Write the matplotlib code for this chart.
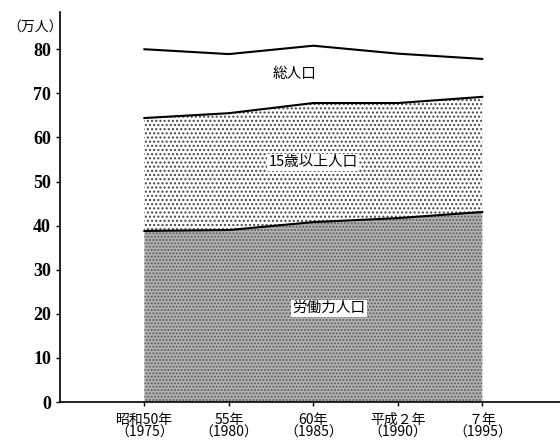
import numpy as np
import matplotlib
matplotlib.use("Agg")
import matplotlib.pyplot as plt

plt.rcParams['font.family'] = ['Noto Sans CJK JP', 'DejaVu Sans']
plt.rcParams['hatch.linewidth'] = 1.0

# データ (万人)
years = [1975, 1980, 1985, 1990, 1995]
tick_labels = ["昭和50年\n（1975）", "55年\n（1980）", "60年\n（1985）",
               "平成２年\n（1990）", "７年\n（1995）"]
total_pop = [80.0, 78.9, 80.8, 79.0, 77.8]
over15_pop = [64.4, 65.5, 67.8, 67.8, 69.2]
labor_pop = [38.8, 39.0, 40.8, 41.7, 43.1]

fig = plt.figure(figsize=(5.6, 4.45), dpi=100)
ax = fig.add_axes([0.107, 0.0966, 0.893, 0.876])

# 労働力人口 (濃い網点)
ax.fill_between(years, 0, labor_pop, facecolor="#b4b4b4", edgecolor="#5a5a5a",
                hatch=".....", linewidth=0)
# 15歳以上人口 (薄い網点)
ax.fill_between(years, labor_pop, over15_pop, facecolor="white", edgecolor="#444444",
                hatch="....", linewidth=0)

ax.plot(years, total_pop, color="black", lw=1.5)
ax.plot(years, over15_pop, color="black", lw=1.5)
ax.plot(years, labor_pop, color="black", lw=1.5)

ax.text(1983.9, 74.3, "総人口", fontsize=10.5, ha="center", va="center")
ax.text(1985.0, 54.4, "15歳以上人口", fontsize=10.5, ha="center", va="center",
        bbox=dict(facecolor="white", edgecolor="none", pad=1))
ax.text(1985.9, 21.3, "労働力人口", fontsize=10.5, ha="center", va="center",
        bbox=dict(facecolor="white", edgecolor="none", pad=1))

ax.set_xlim(1970, 1999.6)
ax.set_ylim(0, 88.4)
ax.set_xticks(years)
ax.set_xticklabels(tick_labels, fontsize=10, linespacing=0.9)
ax.set_yticks(np.arange(0, 81, 10))
ax.set_yticklabels([str(v) for v in range(0, 81, 10)], fontsize=13,
                   family="Liberation Serif", fontweight="bold")
ax.tick_params(axis="both", direction="out", length=3, width=1)
ax.tick_params(axis="x", pad=5)

for s in ["top", "right"]:
    ax.spines[s].set_visible(False)
ax.spines["left"].set_linewidth(1.2)
ax.spines["bottom"].set_linewidth(1.2)

fig.text(0.014, 0.937, "（万人）", fontsize=10, ha="left", va="center")

fig.savefig("out.png", dpi=100)
